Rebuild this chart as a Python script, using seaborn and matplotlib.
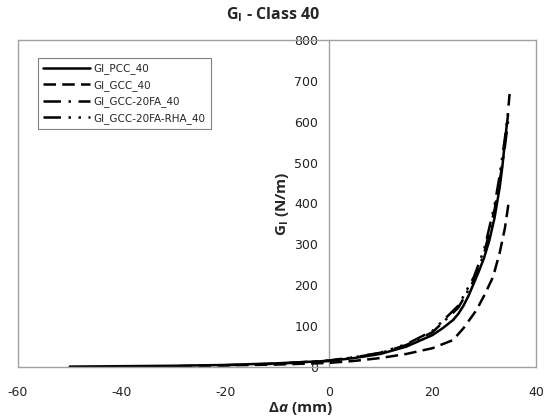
import numpy as np
import pandas as pd
import matplotlib
matplotlib.use("Agg")
import matplotlib.pyplot as plt
import seaborn as sns

# ---- data ----
series_names = ["GI_PCC_40", "GI_GCC_40", "GI_GCC-20FA_40", "GI_GCC-20FA-RHA_40"]

pcc_x = [-50, -40, -30, -20, -10, 0, 5, 10, 15, 20, 22, 24, 25, 26, 27, 28, 29, 30, 31, 32, 33, 33.5, 34.2, 34.6]
pcc_y = [1, 2, 3, 5, 9, 15, 22, 32, 50, 78, 95, 115, 130, 150, 175, 205, 235, 268, 310, 365, 440, 490, 575, 617]

gcc_x = [-36, -30, -20, -10, 0, 5, 10, 15, 20, 24, 26, 28.5, 30, 31.7, 33, 34, 34.5, 34.8]
gcc_y = [1, 2, 4, 6, 10, 15, 22, 32, 46, 66, 95, 139, 175, 220, 280, 340, 383, 410]

fa_x = [-21, -10, 0, 5, 10, 15, 20, 25, 28, 30, 32, 33, 34, 34.7]
fa_y = [4, 8, 16, 24, 34, 54, 85, 145, 212, 278, 385, 455, 540, 610]

rha_x = [-10, 0, 5, 10, 15, 20, 25, 28, 30, 32, 33, 34, 34.5, 34.9]
rha_y = [8, 15, 24, 35, 56, 88, 150, 220, 288, 395, 470, 560, 610, 668]

x_ticks = [-60, -40, -20, 0, 20, 40]
y_ticks = [0, 100, 200, 300, 400, 500, 600, 700, 800]

frames = []
for name, xs, ys in zip(series_names, [pcc_x, gcc_x, fa_x, rha_x], [pcc_y, gcc_y, fa_y, rha_y]):
    frames.append(pd.DataFrame({"da": xs, "G": ys, "series": name}))
df = pd.concat(frames, ignore_index=True)

sns.set_style("white")
plt.rcParams["font.family"] = ["DejaVu Sans"]
plt.rcParams["axes.unicode_minus"] = False
plt.rcParams["mathtext.fontset"] = "custom"
plt.rcParams["mathtext.rm"] = "Open Sans:bold"
plt.rcParams["mathtext.it"] = "Open Sans:bold:italic"
plt.rcParams["mathtext.bf"] = "Open Sans:bold"

fig = plt.figure(figsize=(5.46, 4.2), dpi=100)
ax = fig.add_axes([18 / 546, 53 / 420, 518 / 546, 327 / 420])

dashes = {
    "GI_PCC_40": "",
    "GI_GCC_40": (5, 2.5),
    "GI_GCC-20FA_40": (7, 3, 1, 3),
    "GI_GCC-20FA-RHA_40": (7, 3, 1, 3, 1, 3),
}
sns.lineplot(data=df, x="da", y="G", hue="series", style="series",
             palette=["black"] * 4, dashes=dashes, sort=False, estimator=None,
             linewidth=1.8, ax=ax)

ax.set_xlim(-60, 40)
ax.set_ylim(0, 800)
ax.set_xticks(x_ticks)
ax.set_yticks(y_ticks)
ax.tick_params(axis="both", labelsize=9, colors="#222222", direction="out",
               length=4, width=0.8, color="#999999")
ax.tick_params(axis="x", pad=10)

for s in ["top", "right", "bottom", "left"]:
    ax.spines[s].set_color("#a0a0a0")
    ax.spines[s].set_linewidth(1.0)
    ax.spines[s].set_visible(True)
ax.spines["left"].set_position(("data", 0))
ax.spines["left"].set_zorder(0)
ax.axvline(-60, color="#a0a0a0", linewidth=1.0, clip_on=False, zorder=0)

ax.set_xlabel(r"$\Delta\mathit{a}$ (mm)", fontsize=11, fontweight="bold",
              family=["Open Sans", "DejaVu Sans"])
ax.xaxis.set_label_coords(0.545, -0.1)
ax.set_ylabel(r"G$_\mathregular{I}$ (N/m)", fontsize=11, fontweight="bold",
              family=["Open Sans", "DejaVu Sans"])
ax.yaxis.set_label_coords(0.527, 0.5)

fig.text(0.5, 0.965, r"G$_\mathregular{I}$ - Class 40", ha="center", va="center",
         fontsize=11.5, fontweight="bold", family=["Open Sans", "DejaVu Sans"])

leg = ax.legend(loc="upper left", bbox_to_anchor=(0.039, 0.945), borderaxespad=0,
                fontsize=7.5, handlelength=4.5, frameon=True, fancybox=False,
                edgecolor="#808080", framealpha=1, labelspacing=0.55,
                handletextpad=0.3, borderpad=0.5, title=None)
leg.get_frame().set_linewidth(0.8)
for line in leg.get_lines():
    line.set_linewidth(1.8)

fig.savefig("out.png", dpi=100)
